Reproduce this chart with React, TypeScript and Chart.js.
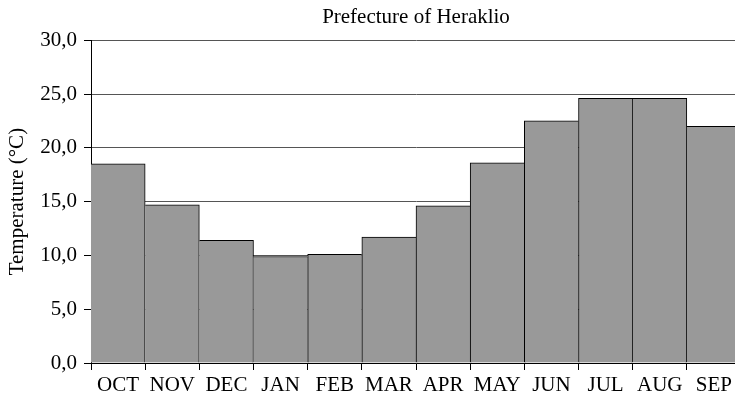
import React, { useEffect, useRef } from "react";
import { Chart, registerables } from "chart.js";

Chart.register(...registerables);

// Mean monthly temperature, hydrological year October–September
const months = ["OCT", "NOV", "DEC", "JAN", "FEB", "MAR", "APR", "MAY", "JUN", "JUL", "AUG", "SEP"];
const temperatures = [18.5, 14.7, 11.4, 9.9, 10.1, 11.7, 14.6, 18.6, 22.5, 24.6, 24.6, 22.0];
const chartTitle = "Prefecture of Heraklio";
const yAxisTitle = "Temperature (°C)";
const yMin = 0;
const yMax = 30;
const yStep = 5;

const FONT = "'Liberation Serif', 'Times New Roman', serif";

export default function App() {
  const canvasRef = useRef<HTMLCanvasElement | null>(null);

  useEffect(() => {
    if (!canvasRef.current) return;

    // One shared 1px line between neighbouring bars: the taller bar owns it.
    const borderFor = (ctx: any) => {
      const i = ctx.dataIndex;
      const data = ctx.dataset.data as number[];
      const v = data[i];
      const prev = i > 0 ? data[i - 1] : undefined;
      const next = i < data.length - 1 ? data[i + 1] : undefined;
      return {
        top: 1,
        bottom: 0,
        left: prev === undefined ? 0 : v > prev ? 1 : 0,
        right: next === undefined ? 1 : v >= next ? 1 : 0,
      };
    };

    const chart = new Chart(canvasRef.current, {
      type: "bar",
      data: {
        labels: months,
        datasets: [
          {
            data: temperatures,
            backgroundColor: "#999999",
            borderColor: "#000000",
            borderWidth: borderFor as any,
            borderSkipped: false,
            barPercentage: 1,
            categoryPercentage: 1,
          },
        ],
      },
      options: {
        responsive: false,
        animation: false,
        devicePixelRatio: 1,
        layout: { padding: 0 },
        plugins: {
          legend: { display: false },
          tooltip: { enabled: false },
          title: {
            display: true,
            fullSize: false,
            text: chartTitle,
            color: "#000",
            font: { family: FONT, size: 21, weight: "normal" },
            padding: { top: 5, bottom: 10 },
          },
        },
        scales: {
          x: {
            offset: true,
            grid: {
              offset: true,
              drawOnChartArea: false,
              tickLength: 7,
              tickColor: "#000",
              lineWidth: 1,
            },
            border: { color: "#000", width: 1 },
            ticks: {
              color: "#000",
              font: { family: FONT, size: 21 },
              padding: 3,
              maxRotation: 0,
              autoSkip: false,
            },
            afterFit: (scale: any) => {
              scale.height = 38;
            },
          },
          y: {
            min: yMin,
            max: yMax,
            grid: {
              color: "#555",
              lineWidth: 1,
              tickLength: 7,
              tickColor: "#000",
            },
            border: { color: "#000", width: 1 },
            ticks: {
              stepSize: yStep,
              color: "#000",
              padding: 7,
              font: { family: FONT, size: 21 },
              callback: (v: any) => Number(v).toFixed(1).replace(".", ","),
            },
            title: {
              display: true,
              text: yAxisTitle,
              color: "#000",
              font: { family: FONT, size: 21 },
              padding: { top: 5, bottom: 0 },
            },
            afterFit: (scale: any) => {
              scale.width = 91;
            },
          },
        },
      },
    });

    return () => chart.destroy();
  }, []);

  return (
    <div
      style={{
        position: "fixed",
        left: 0,
        top: 0,
        width: 735,
        height: 401,
        overflow: "hidden",
        background: "#fff",
      }}
    >
      <canvas ref={canvasRef} width={741} height={401} style={{ display: "block" }} />
    </div>
  );
}
